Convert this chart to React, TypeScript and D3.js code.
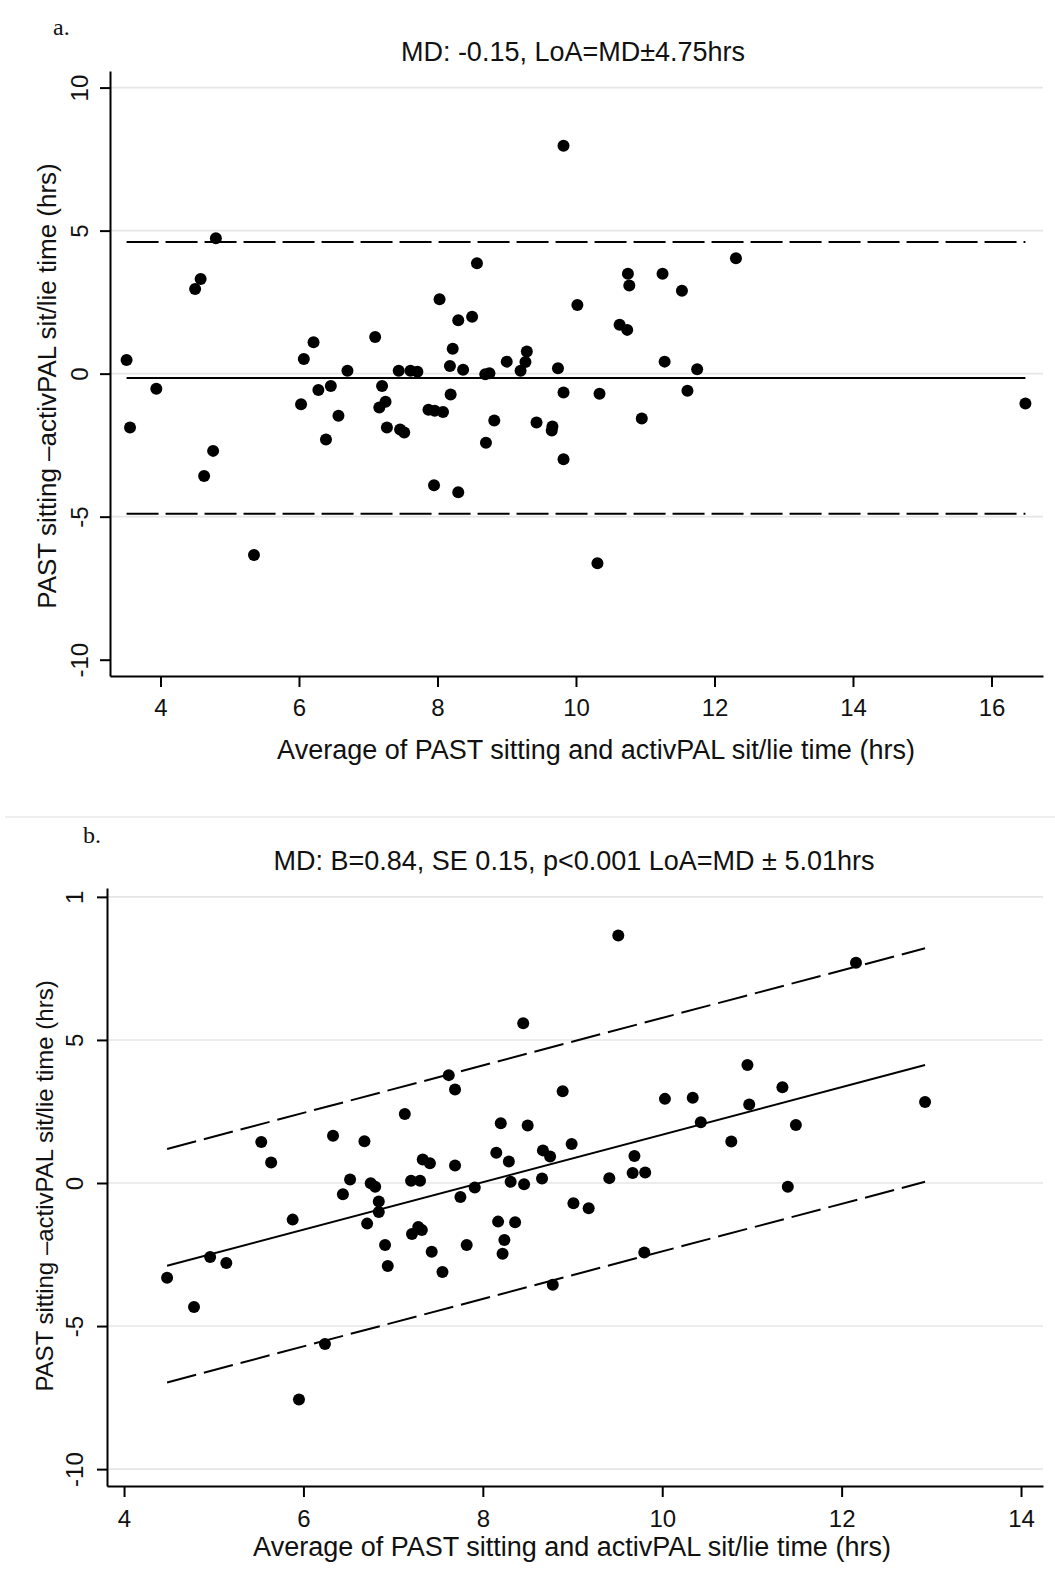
import React, { useEffect, useRef } from 'react';
import * as d3 from 'd3';

// panel a: Bland-Altman, constant mean difference
const aAvg = [9.82, 4.80, 4.58, 4.50, 8.57, 8.03, 10.02, 8.30, 8.50, 7.10, 6.21, 3.51, 6.07, 8.22, 9.29, 9.27, 9.00, 8.18, 8.37, 6.70,
  7.44, 7.61, 7.71, 9.74, 9.20, 8.69, 8.75, 3.94, 6.46, 6.28, 7.20, 9.82, 8.19, 7.25, 7.16, 6.03, 7.87, 7.96, 8.08, 6.57,
  8.82, 9.43, 9.66, 9.65, 3.56, 7.27, 7.46, 7.52, 6.39, 8.70, 4.76, 9.82, 4.63, 7.95, 8.30, 5.35, 10.75, 10.77, 11.25, 11.53,
  12.31, 10.63, 10.74, 11.28, 11.75, 10.34, 11.61, 10.95, 16.49, 10.31];
const aDiff = [7.97, 4.73, 3.31, 2.96, 3.86, 2.60, 2.40, 1.87, 1.99, 1.28, 1.10, 0.48, 0.51, 0.87, 0.77, 0.41, 0.42, 0.27, 0.14, 0.10,
  0.10, 0.10, 0.07, 0.19, 0.10, -0.02, 0.01, -0.53, -0.43, -0.57, -0.43, -0.66, -0.73, -0.98, -1.18, -1.07, -1.26, -1.30, -1.34, -1.47,
  -1.64, -1.71, -1.85, -1.99, -1.88, -1.88, -1.95, -2.06, -2.30, -2.42, -2.70, -2.99, -3.58, -3.90, -4.15, -6.34, 3.49, 3.08, 3.49, 2.90,
  4.03, 1.71, 1.53, 0.42, 0.15, -0.70, -0.60, -1.57, -1.04, -6.63];
const aMean = -0.15;
const aLoa = 4.75;
const aXTicks = [4, 6, 8, 10, 12, 14, 16];
const aYTicks = [-10, -5, 0, 5, 10];
const aYTickLabels = ['-10', '-5', '0', '5', '10'];
const aGrid = [-5, 0, 5, 10];
const aXRange = [3.271, 16.744];
const aYRange = [-10.57, 10.58];

// panel b: mean difference regressed on the average
const bAvg = [8.45, 7.62, 7.69, 8.89, 7.13, 8.20, 8.50, 6.33, 6.68, 5.53, 5.64, 8.99, 8.67, 8.75, 8.15, 8.29, 7.33, 7.41, 7.69, 6.52,
  7.20, 7.30, 6.75, 6.80, 8.31, 8.46, 8.66, 7.91, 6.44, 7.75, 9.01, 6.84, 6.84, 5.88, 6.71, 8.17, 8.36, 7.28, 7.32, 7.21,
  8.24, 6.91, 7.82, 8.22, 7.43, 4.96, 5.14, 6.94, 7.55, 4.48, 4.78, 8.78, 6.24, 5.95, 9.51, 12.16, 10.95, 11.34, 10.03, 10.34,
  10.97, 12.93, 10.43, 11.49, 10.77, 9.69, 9.41, 9.67, 9.81, 9.18, 11.40, 9.80];
const bDiff = [5.58, 3.77, 3.27, 3.21, 2.41, 2.09, 2.01, 1.65, 1.46, 1.43, 0.72, 1.36, 1.14, 0.93, 1.06, 0.75, 0.82, 0.69, 0.61, 0.12,
  0.08, 0.08, -0.01, -0.13, 0.04, -0.04, 0.16, -0.16, -0.39, -0.49, -0.71, -0.65, -1.01, -1.28, -1.42, -1.35, -1.37, -1.54, -1.64, -1.78,
  -1.99, -2.17, -2.17, -2.47, -2.40, -2.59, -2.80, -2.90, -3.11, -3.31, -4.33, -3.56, -5.63, -7.57, 8.65, 7.70, 4.12, 3.35, 2.94, 2.98,
  2.74, 2.83, 2.12, 2.03, 1.45, 0.94, 0.17, 0.35, 0.37, -0.88, -0.13, -2.43];
const bIntercept = -6.61;
const bSlope = 0.83;
const bLoa = 4.08;
const bXTicks = [4, 6, 8, 10, 12, 14];
const bYTicks = [-10, -5, 0, 5, 10];
const bYTickLabels = ['-10', '-5', '0', '5', '1'];
const bGrid = [-10, -5, 0, 5, 10];
const bXRange = [3.81, 14.245];
const bYRange = [-10.59, 10.31];

const SANS = "'Liberation Sans', Arial, Helvetica, sans-serif";
const SERIF = "'Liberation Serif', 'Times New Roman', serif";
const XTITLE = 'Average of PAST sitting and activPAL sit/lie time (hrs)';
const YTITLE = 'PAST sitting \u2013activPAL sit/lie time (hrs)';

const App = () => {
    const ref = useRef(null);

    const drawPanel = (svg, p) => {
        const g = svg.append('g');
        const x = d3.scaleLinear().domain(p.xRange).range([p.left, p.right]);
        const y = d3.scaleLinear().domain(p.yRange).range([p.bottom, p.top]);

        // gridlines
        g.selectAll('line.grid').data(p.grid).enter().append('line')
            .attr('class', 'grid')
            .attr('x1', p.left).attr('x2', p.right)
            .attr('y1', d => y(d)).attr('y2', d => y(d))
            .attr('stroke', '#e6e6e6').attr('stroke-width', 1.6);

        // y axis
        const ya = g.append('g')
            .attr('transform', `translate(${p.left},0)`)
            .call(d3.axisLeft(y).tickValues(p.yTicks).tickSize(10).tickSizeOuter(0)
                .tickFormat((d, i) => p.yTickLabels[i]));
        ya.selectAll('text')
            .attr('transform', 'rotate(-90)')
            .attr('x', 0).attr('y', -p.yLabOff).attr('dy', 0)
            .attr('text-anchor', 'middle')
            .style('font-family', SANS).style('font-size', '24px').attr('fill', '#111');

        // x axis
        const xa = g.append('g')
            .attr('transform', `translate(0,${p.bottom})`)
            .call(d3.axisBottom(x).tickValues(p.xTicks).tickSize(11).tickSizeOuter(0));
        xa.selectAll('text')
            .attr('y', p.xLabOff).attr('dy', 0)
            .style('font-family', SANS).style('font-size', '24px').attr('fill', '#111');

        g.selectAll('.domain').attr('stroke', '#000').attr('stroke-width', 2);
        g.selectAll('.tick line').attr('stroke', '#000').attr('stroke-width', 2);

        // reference lines
        const [x0, x1] = d3.extent(p.avg);
        const line = d3.line().x(d => x(d[0])).y(d => y(d[1]));
        p.lines.forEach(l => {
            g.append('path')
                .attr('d', line([[x0, l.f(x0)], [x1, l.f(x1)]]))
                .attr('fill', 'none').attr('stroke', '#000').attr('stroke-width', 2)
                .attr('stroke-dasharray', l.dash ? p.dash : null);
        });

        // points
        g.selectAll('circle.pt').data(p.avg).enter().append('circle')
            .attr('class', 'pt')
            .attr('cx', d => x(d))
            .attr('cy', (d, i) => y(p.diff[i]))
            .attr('r', 6)
            .attr('fill', '#000');

        // titles
        g.append('text').text(p.title)
            .attr('x', p.titleX).attr('y', p.titleY).attr('text-anchor', 'middle')
            .style('font-family', SANS).style('font-size', '27px').attr('fill', '#111');
        g.append('text').text(XTITLE)
            .attr('x', p.xTitleX).attr('y', p.xTitleY).attr('text-anchor', 'middle')
            .style('font-family', SANS).style('font-size', '27px').attr('fill', '#111');
        g.append('text').text(YTITLE)
            .attr('transform', `translate(${p.yTitleX},${p.yTitleY}) rotate(-90)`)
            .attr('text-anchor', 'middle')
            .style('font-family', SANS).style('font-size', p.yTitleSize).attr('fill', '#111');
        g.append('text').text(p.tag)
            .attr('x', p.tagX).attr('y', p.tagY)
            .style('font-family', SERIF).style('font-size', '24px').attr('fill', '#111');
    };

    const graph = () => {
        const svg = d3.select(ref.current);
        svg.selectAll('*').remove();

        svg.append('rect').attr('width', 1055).attr('height', 1582).attr('fill', '#fff');

        drawPanel(svg, {
            avg: aAvg, diff: aDiff, xRange: aXRange, yRange: aYRange,
            xTicks: aXTicks, yTicks: aYTicks, yTickLabels: aYTickLabels, grid: aGrid,
            left: 110, right: 1043, top: 71, bottom: 676,
            yLabOff: 22, xLabOff: 40,
            lines: [
                { f: () => aMean, dash: false },
                { f: () => aMean + aLoa, dash: true },
                { f: () => aMean - aLoa, dash: true },
            ],
            dash: '32 7',
            title: 'MD: -0.15, LoA=MD\u00b14.75hrs', titleX: 573, titleY: 61,
            xTitleX: 596, xTitleY: 759,
            yTitleX: 56, yTitleY: 386, yTitleSize: '26px',
            tag: 'a.', tagX: 53, tagY: 35,
        });

        svg.append('line')
            .attr('x1', 5).attr('x2', 1055).attr('y1', 817).attr('y2', 817)
            .attr('stroke', '#e8e8e8').attr('stroke-width', 1.5);

        drawPanel(svg, {
            avg: bAvg, diff: bDiff, xRange: bXRange, yRange: bYRange,
            xTicks: bXTicks, yTicks: bYTicks, yTickLabels: bYTickLabels, grid: bGrid,
            left: 107, right: 1043, top: 888, bottom: 1486,
            yLabOff: 24, xLabOff: 41,
            lines: [
                { f: v => bIntercept + bSlope * v, dash: false },
                { f: v => bIntercept + bSlope * v + bLoa, dash: true },
                { f: v => bIntercept + bSlope * v - bLoa, dash: true },
            ],
            dash: '30 8',
            title: 'MD: B=0.84, SE 0.15, p<0.001 LoA=MD \u00b1 5.01hrs', titleX: 574, titleY: 870,
            xTitleX: 572, xTitleY: 1556,
            yTitleX: 53, yTitleY: 1186, yTitleSize: '24px',
            tag: 'b.', tagX: 83, tagY: 843,
        });
    };

    useEffect(() => graph());

    return (
        <svg ref={ref} width="1055" height="1582"
            style={{ position: 'absolute', left: 0, top: 0 }}></svg>
    );
};

export default App;
